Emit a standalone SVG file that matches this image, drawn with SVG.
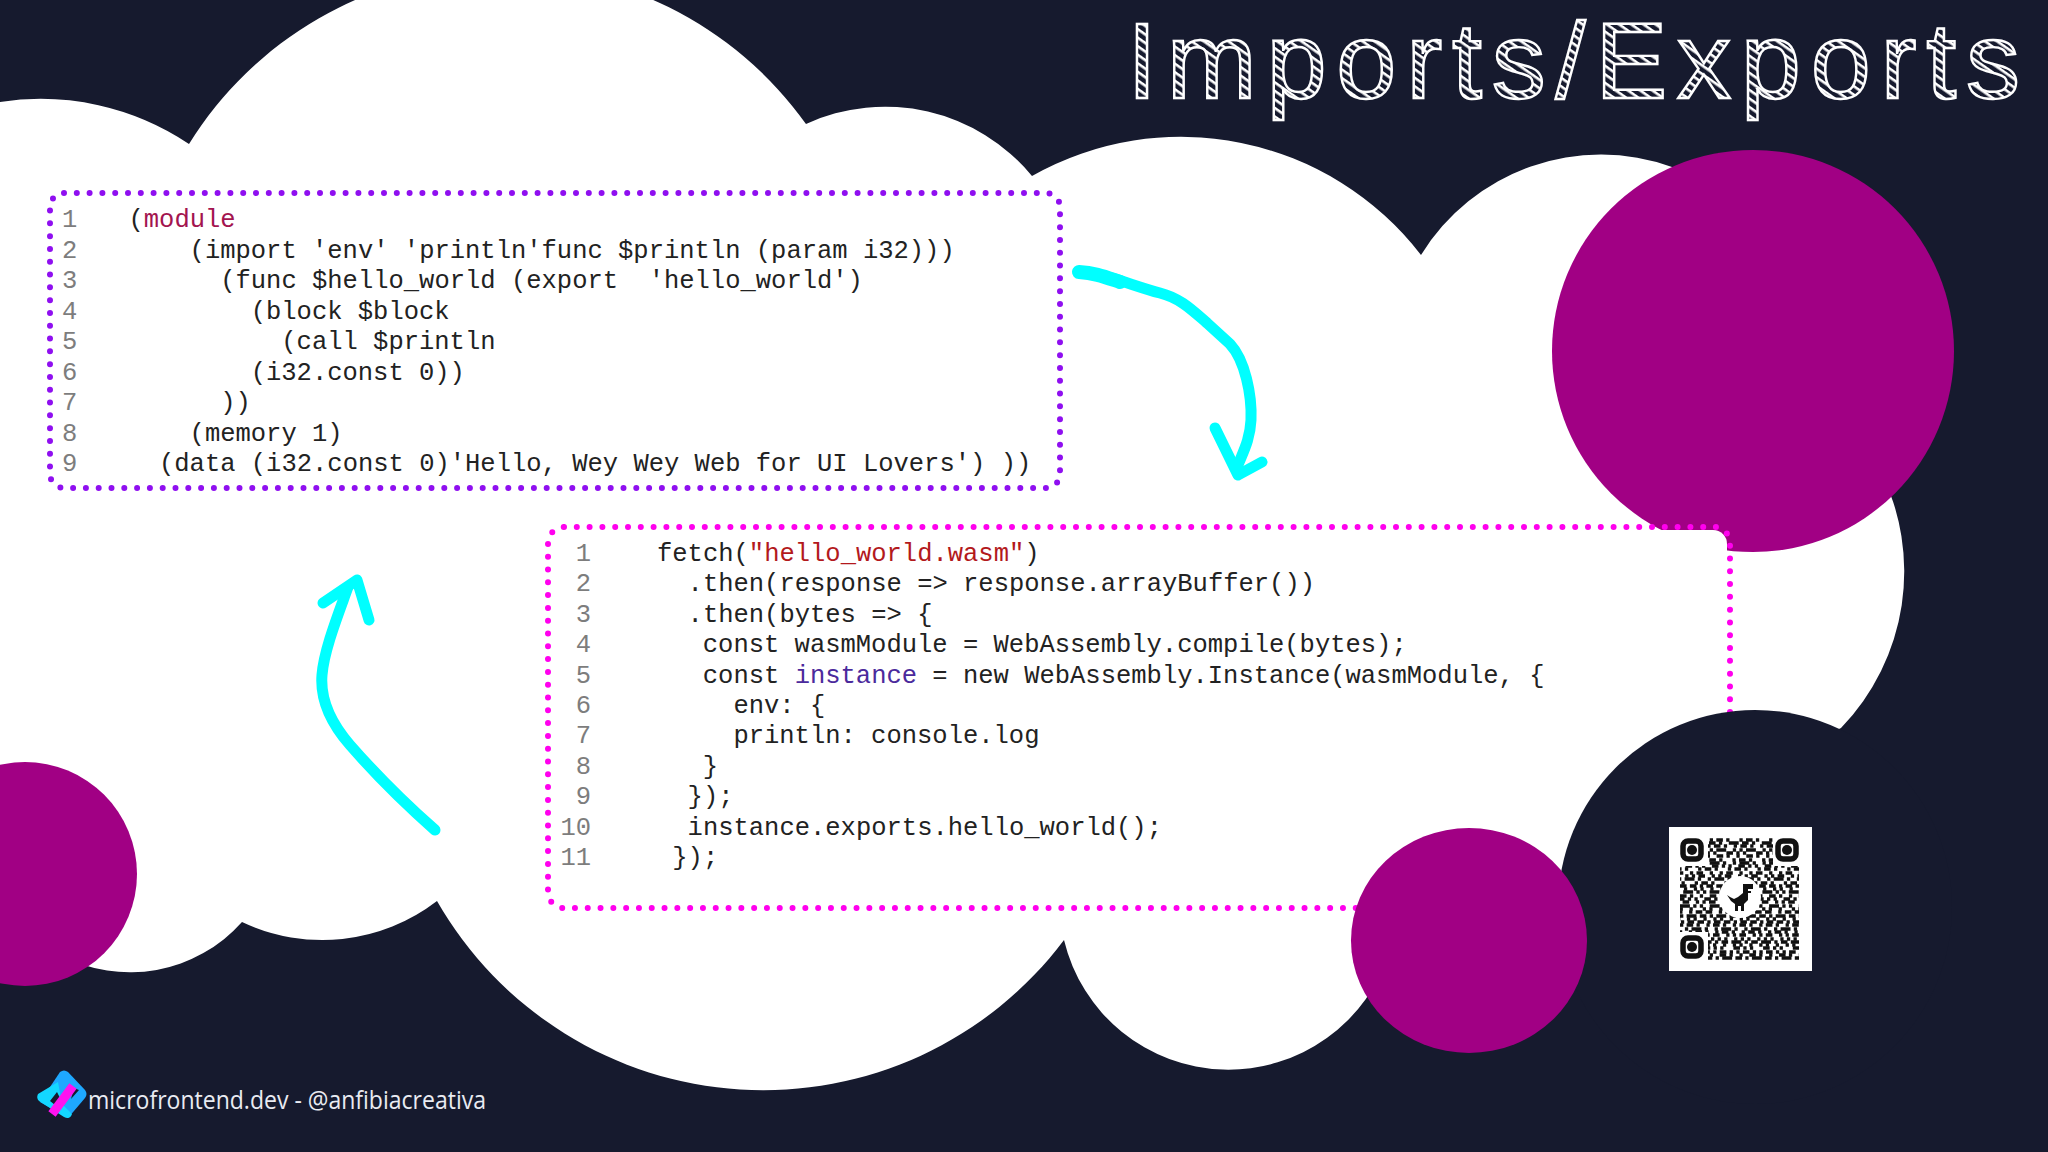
<svg xmlns="http://www.w3.org/2000/svg" width="2048" height="1152" viewBox="0 0 2048 1152">
<defs>
<pattern id="hatch" width="7" height="7" patternUnits="userSpaceOnUse" patternTransform="rotate(35)"><rect width="7" height="7" fill="#161a2e"/><rect width="7" height="2.6" fill="#fff"/></pattern>
</defs>
<style>
.code{font-family:"Liberation Mono",monospace;font-size:25.5px;fill:#222;white-space:pre}
.num{font-family:"Liberation Mono",monospace;font-size:25.5px;fill:#7d7d7d}
.end{text-anchor:end}
.arrow{fill:none;stroke:#00ffff;stroke-width:11;stroke-linecap:round;stroke-linejoin:round}
.q{fill:none;stroke:#111;stroke-width:3.4}
.dots{fill:none;stroke-width:6;stroke-linecap:round;stroke-dasharray:0 12.8}
</style>
<rect width="2048" height="1152" fill="#161a2e"/>
<g id="cloud"><path fill="#fff" d="M0,102 A267,267 0 0 1 189,144 A371,371 0 0 1 806,124 A190,190 0 0 1 1032,176 A303,303 0 0 1 1421,255 A211,211 0 0 1 1672,167 L1880,470 A225,225 0 0 1 1841,728 L1390,950 A169,169 0 0 1 1064,940 A376,376 0 0 1 437,901 A188,188 0 0 1 242,922 A150,150 0 0 1 60,955 L0,900 Z"/></g>
<circle cx="1753" cy="351" r="201" fill="#a10084"/>
<g id="wasm-box"><rect x="53" y="196" width="1004" height="289" rx="12" fill="#fff"/><rect class="dots" x="50" y="193" width="1010" height="295" rx="14" stroke="#8f0ff0"/>
<g class="num"><text x="62" y="227">1</text><text x="62" y="257.5">2</text><text x="62" y="288">3</text><text x="62" y="318.5">4</text><text x="62" y="349">5</text><text x="62" y="379.5">6</text><text x="62" y="410">7</text><text x="62" y="440.5">8</text><text x="62" y="471">9</text></g>
<text class="code" x="128.5" y="227">(<tspan fill="#a3144f">module</tspan></text>
<text class="code" x="189.6" y="257.5">(import 'env' 'println'func $println (param i32)))</text>
<text class="code" x="220.2" y="288">(func $hello_world (export  'hello_world')</text>
<text class="code" x="250.7" y="318.5">(block $block</text>
<text class="code" x="281.3" y="349">(call $println</text>
<text class="code" x="250.7" y="379.5">(i32.const 0))</text>
<text class="code" x="220.2" y="410">))</text>
<text class="code" x="189.6" y="440.5">(memory 1)</text>
<text class="code" x="159" y="471">(data (i32.const 0)'Hello, Wey Wey Web for UI Lovers') ))</text></g>
<g id="js-box"><rect x="551" y="530" width="1176" height="375" rx="14" fill="#fff"/><rect class="dots" x="548" y="527" width="1182" height="381" rx="16" stroke="#ff00ee"/>
<g class="num end"><text x="591" y="561">1</text><text x="591" y="591.4">2</text><text x="591" y="621.8">3</text><text x="591" y="652.2">4</text><text x="591" y="682.6">5</text><text x="591" y="713">6</text><text x="591" y="743.4">7</text><text x="591" y="773.8">8</text><text x="591" y="804.2">9</text><text x="591" y="834.6">10</text><text x="591" y="865">11</text></g>
<text class="code" x="657" y="561">fetch(<tspan fill="#b3191c">"hello_world.wasm"</tspan>)</text>
<text class="code" x="687.6" y="591.4">.then(response =&gt; response.arrayBuffer())</text>
<text class="code" x="687.6" y="621.8">.then(bytes =&gt; {</text>
<text class="code" x="702.8" y="652.2">const wasmModule = WebAssembly.compile(bytes);</text>
<text class="code" x="702.8" y="682.6">const <tspan fill="#4b2a9c">instance</tspan> = new WebAssembly.Instance(wasmModule, {</text>
<text class="code" x="733.4" y="713">env: {</text>
<text class="code" x="733.4" y="743.4">println: console.log</text>
<text class="code" x="702.8" y="773.8">}</text>
<text class="code" x="687.6" y="804.2">});</text>
<text class="code" x="687.6" y="834.6">instance.exports.hello_world();</text>
<text class="code" x="672.3" y="865">});</text></g>
<circle cx="1755" cy="907" r="197" fill="#161a2e"/>
<ellipse cx="1469" cy="940.5" rx="118" ry="112.5" fill="#a10084"/>
<circle cx="25" cy="874" r="112" fill="#a10084"/>
<g id="connectors">
<path class="arrow" d="M1078,272 C1105,273 1130,285 1160,293 C1180,298 1192,310 1207,323 L1230,344 C1245,360 1252,395 1251,420 C1250,440 1243,452 1238,465"/>
<path class="arrow" style="stroke-width:14" d="M1079,272 C1095,273 1105,277 1120,282"/>
<path class="arrow" d="M1215,428 L1238,475 L1262,462"/>
<path class="arrow" d="M435,830 C410,808 385,785 350,745 C330,722 320,700 322,675 C324,650 338,615 348,587"/>
<path class="arrow" d="M323,603 L357,580 L369,620"/>
</g>
<text id="title" x="1127" y="98" textLength="893" lengthAdjust="spacing" font-family="'Liberation Sans',sans-serif" font-size="108" fill="url(#hatch)" stroke="#fff" stroke-width="2.4">Imports/Exports</text>
<g id="qr"><rect x="1669" y="827" width="143" height="144" fill="#fff"/>
<g class="q">
<path d="M1680 840H1799" stroke-dasharray="3.3 3.3 6.6 3.3 3.3 9.9"/><path d="M1680 843H1799" stroke-dasharray="6.6 3.3 3.3 6.6 9.9 3.3" stroke-dashoffset="4"/>
<path d="M1680 846H1799" stroke-dasharray="3.3 6.6 3.3 3.3 6.6 3.3" stroke-dashoffset="9"/><path d="M1680 850H1799" stroke-dasharray="3.3 3.3 9.9 6.6 3.3 3.3"/>
<path d="M1680 853H1799" stroke-dasharray="6.6 3.3 3.3 3.3 3.3 9.9" stroke-dashoffset="13"/><path d="M1680 856H1799" stroke-dasharray="3.3 6.6 6.6 3.3 3.3 6.6" stroke-dashoffset="3"/>
<path d="M1680 860H1799" stroke-dasharray="3.3 3.3 6.6 3.3 3.3 9.9" stroke-dashoffset="7"/><path d="M1680 863H1799" stroke-dasharray="9.9 3.3 3.3 6.6 3.3 3.3"/>
<path d="M1680 866H1799" stroke-dasharray="3.3 3.3 3.3 6.6 6.6 3.3" stroke-dashoffset="11"/><path d="M1680 869H1799" stroke-dasharray="6.6 3.3 3.3 9.9 3.3 3.3" stroke-dashoffset="5"/>
<path d="M1680 873H1799" stroke-dasharray="3.3 6.6 3.3 3.3 6.6 6.6"/><path d="M1680 876H1799" stroke-dasharray="6.6 6.6 3.3 3.3 3.3 3.3" stroke-dashoffset="8"/>
<path d="M1680 879H1799" stroke-dasharray="3.3 3.3 9.9 3.3 3.3 6.6" stroke-dashoffset="2"/><path d="M1680 883H1799" stroke-dasharray="3.3 3.3 6.6 3.3 3.3 9.9" stroke-dashoffset="15"/>
<path d="M1680 886H1799" stroke-dasharray="6.6 3.3 6.6 3.3 3.3 3.3"/><path d="M1680 889H1799" stroke-dasharray="3.3 6.6 3.3 6.6 3.3 3.3" stroke-dashoffset="6"/>
<path d="M1680 892H1799" stroke-dasharray="3.3 3.3 3.3 3.3 9.9 3.3" stroke-dashoffset="10"/><path d="M1680 896H1799" stroke-dasharray="6.6 3.3 3.3 6.6 3.3 6.6"/>
<path d="M1680 899H1799" stroke-dasharray="3.3 6.6 6.6 3.3 3.3 3.3" stroke-dashoffset="12"/><path d="M1680 902H1799" stroke-dasharray="3.3 3.3 6.6 6.6 3.3 3.3" stroke-dashoffset="4"/>
<path d="M1680 906H1799" stroke-dasharray="9.9 3.3 3.3 3.3 3.3 6.6"/><path d="M1680 909H1799" stroke-dasharray="3.3 3.3 3.3 6.6 3.3 9.9" stroke-dashoffset="7"/>
<path d="M1680 912H1799" stroke-dasharray="6.6 3.3 6.6 6.6 3.3 3.3" stroke-dashoffset="14"/><path d="M1680 916H1799" stroke-dasharray="3.3 3.3 9.9 3.3 6.6 3.3"/>
<path d="M1680 919H1799" stroke-dasharray="3.3 6.6 3.3 3.3 3.3 6.6" stroke-dashoffset="3"/><path d="M1680 922H1799" stroke-dasharray="6.6 3.3 3.3 3.3 6.6 3.3" stroke-dashoffset="9"/>
<path d="M1680 925H1799" stroke-dasharray="3.3 3.3 6.6 3.3 3.3 6.6"/><path d="M1680 929H1799" stroke-dasharray="3.3 6.6 3.3 3.3 9.9 3.3" stroke-dashoffset="5"/>
<path d="M1680 932H1799" stroke-dasharray="6.6 3.3 3.3 6.6 3.3 3.3" stroke-dashoffset="11"/><path d="M1680 935H1799" stroke-dasharray="3.3 3.3 6.6 6.6 3.3 3.3"/>
<path d="M1680 939H1799" stroke-dasharray="3.3 6.6 3.3 3.3 3.3 3.3" stroke-dashoffset="2"/><path d="M1680 942H1799" stroke-dasharray="9.9 3.3 3.3 3.3 6.6 3.3" stroke-dashoffset="8"/>
<path d="M1680 945H1799" stroke-dasharray="3.3 3.3 3.3 6.6 3.3 6.6"/><path d="M1680 948H1799" stroke-dasharray="6.6 3.3 3.3 3.3 3.3 9.9" stroke-dashoffset="6"/>
<path d="M1680 952H1799" stroke-dasharray="3.3 3.3 6.6 3.3 3.3 3.3" stroke-dashoffset="13"/><path d="M1680 955H1799" stroke-dasharray="3.3 6.6 6.6 3.3 3.3 6.6"/>
<path d="M1680 958H1799" stroke-dasharray="6.6 3.3 3.3 3.3 9.9 3.3" stroke-dashoffset="4"/>
</g>
<g fill="#fff"><rect x="1678" y="836" width="30" height="30"/><rect x="1773" y="836" width="30" height="30"/><rect x="1678" y="932" width="30" height="30"/><circle cx="1740" cy="897" r="21"/><rect x="1680" y="960" width="125" height="8"/></g>
<g fill="none" stroke="#111" stroke-width="5.5"><rect x="1683" y="841" width="18" height="18" rx="5"/><rect x="1778" y="841" width="18" height="18" rx="5"/><rect x="1683" y="938" width="18" height="18" rx="5"/></g>
<g fill="#111"><circle cx="1692" cy="850" r="5"/><circle cx="1787" cy="850" r="5"/><circle cx="1692" cy="947" r="5"/></g>
<path fill="#111" d="M1743 884H1753V889H1748V891H1751V893H1748V900L1744 904V911H1741V906H1738V911H1735V904L1731 901L1727 895L1730 897L1734 899L1738 897L1743 893Z"/></g>
<g id="footer">
<path fill="#1ea8ff" d="M60,1072 Q64,1069 68,1072 L85,1090 Q88,1094 85,1098 L68,1118 L40,1102 Z"/>
<path fill="#13d7ff" d="M58,1082 L38,1094 Q36,1098 39,1101 L64,1117 Q70,1120 72,1114 L62,1104 Z"/>
<path fill="#161a2e" d="M50,1101 L57,1092 L60,1098 L55,1105 Z M74,1088 L79,1090 L71,1099 Z"/>
<path fill="none" stroke="#ff12f0" stroke-width="9" d="M73,1086 L52,1114"/>
<text x="88" y="1109" textLength="398" lengthAdjust="spacingAndGlyphs" font-family="'Open Sans',sans-serif" font-size="25" fill="#e9ebf2">microfrontend.dev - @anfibiacreativa</text>
</g>
</svg>
